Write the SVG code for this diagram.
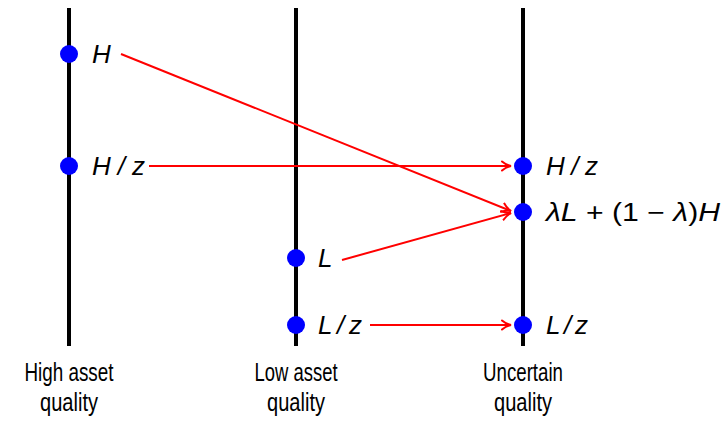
<svg xmlns="http://www.w3.org/2000/svg" width="724" height="422" viewBox="0 0 724 422">
<style>
.axis{stroke:#000;stroke-width:4;fill:none}
.dot{fill:#0000ff}
.lbl{font-family:"Liberation Sans","DejaVu Sans",sans-serif;font-style:italic;font-size:26px;fill:#000}
.up{font-style:normal}
.cap{font-family:"Liberation Sans","DejaVu Sans",sans-serif;font-size:25px;fill:#000;text-anchor:middle}
.arr{stroke:#ff0000;stroke-width:2;fill:none;marker-end:url(#ah)}
</style>
<defs>
<marker id="ah" viewBox="0 0 12 12" refX="10" refY="6" markerWidth="12" markerHeight="12" markerUnits="userSpaceOnUse" orient="auto">
<path d="M1,1.5 Q5,5 10,6 Q5,7 1,10.5" fill="none" stroke="#ff0000" stroke-width="2" stroke-linecap="round"/>
</marker>
</defs>
<g id="high">
<line class="axis" x1="69" y1="8" x2="69" y2="346"/>
<circle class="dot" cx="69" cy="54" r="9"/>
<circle class="dot" cx="69" cy="166" r="9"/>
<text class="lbl" x="92" y="63">H</text>
<text class="lbl" x="92" y="175" textLength="53" lengthAdjust="spacing">H / z</text>
<text class="cap" x="69" y="381" textLength="89" lengthAdjust="spacingAndGlyphs">High asset</text>
<text class="cap" x="69" y="411" textLength="58" lengthAdjust="spacingAndGlyphs">quality</text>
</g>
<g id="low">
<line class="axis" x1="296" y1="8" x2="296" y2="346"/>
<circle class="dot" cx="296" cy="258" r="9"/>
<circle class="dot" cx="296" cy="325" r="9"/>
<text class="lbl" x="318" y="267">L</text>
<text class="lbl" x="318" y="334" textLength="44" lengthAdjust="spacing">L / z</text>
<text class="cap" x="296" y="381" textLength="83" lengthAdjust="spacingAndGlyphs">Low asset</text>
<text class="cap" x="296" y="411" textLength="58" lengthAdjust="spacingAndGlyphs">quality</text>
</g>
<g id="uncertain">
<line class="axis" x1="523" y1="8" x2="523" y2="346"/>
<circle class="dot" cx="523" cy="166" r="9"/>
<circle class="dot" cx="523" cy="212" r="9"/>
<circle class="dot" cx="523" cy="325" r="9"/>
<text class="lbl" x="546" y="175" textLength="52" lengthAdjust="spacing">H / z</text>
<text class="lbl" x="546" y="221" style="font-size:25px" textLength="174" lengthAdjust="spacingAndGlyphs">λL<tspan class="up"> + (1 − </tspan>λ<tspan class="up">)</tspan>H</text>
<text class="lbl" x="546" y="334" textLength="42" lengthAdjust="spacing">L / z</text>
<text class="cap" x="523" y="381" textLength="80" lengthAdjust="spacingAndGlyphs">Uncertain</text>
<text class="cap" x="523" y="411" textLength="58" lengthAdjust="spacingAndGlyphs">quality</text>
</g>
<g id="connectors">
<line class="arr" x1="121" y1="54" x2="511" y2="211"/>
<line class="arr" x1="149" y1="166" x2="511" y2="166"/>
<line class="arr" x1="342" y1="260" x2="511" y2="213"/>
<line class="arr" x1="370" y1="325" x2="511" y2="325"/>
</g>
</svg>
